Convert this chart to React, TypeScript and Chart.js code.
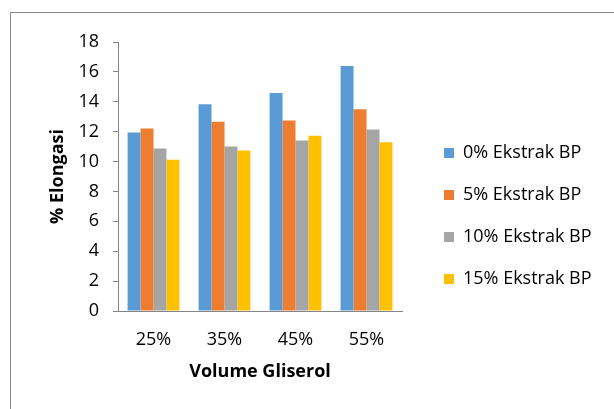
import React, { useEffect, useRef } from 'react';
import { Chart, registerables } from 'chart.js';

Chart.register(...registerables);

const categories = ['25%', '35%', '45%', '55%'];
const seriesNames = ['0% Ekstrak BP', '5% Ekstrak BP', '10% Ekstrak BP', '15% Ekstrak BP'];
const ekstrak0 = [11.95, 13.84, 14.59, 16.4];
const ekstrak5 = [12.21, 12.66, 12.74, 13.5];
const ekstrak10 = [10.87, 11.01, 11.41, 12.15];
const ekstrak15 = [10.12, 10.74, 11.72, 11.3];
const seriesColors = ['#5B9BD5', '#ED7D31', '#A5A5A5', '#FFC000'];
const yMin = 0;
const yMax = 18;
const yStep = 2;
const xTitle = 'Volume Gliserol';
const yTitle = '% Elongasi';

const FONT = "'Open Sans', 'Liberation Sans', sans-serif";
const AXIS_COLOR = '#868686';

const legendPlacement = {
  id: 'legendPlacement',
  beforeInit(chart: any) {
    const lg = chart.legend;
    if (!lg) return;
    const orig = lg.fit;
    lg.fit = function () {
      orig.call(this);
      this.width = 212;
    };
  },
  afterLayout(chart: any) {
    const lg = chart.legend;
    if (lg) {
      lg.left += 18;
      lg.right += 18;
    }
  },
};

export default function App() {
  const ref = useRef<HTMLCanvasElement>(null);

  useEffect(() => {
    const values = [ekstrak0, ekstrak5, ekstrak10, ekstrak15];
    const chart = new Chart(ref.current as HTMLCanvasElement, {
      type: 'bar',
      data: {
        labels: categories,
        datasets: seriesNames.map((name, i) => ({
          label: name,
          data: values[i],
          backgroundColor: seriesColors[i],
          borderWidth: 0,
          barPercentage: 1,
          categoryPercentage: 0.73,
        })),
      },
      options: {
        responsive: false,
        animation: false,
        devicePixelRatio: 1,
        layout: { padding: { left: 40, top: 42, bottom: 19, right: 0 } },
        plugins: {
          tooltip: { enabled: false },
          legend: {
            position: 'right',
            align: 'center',
            labels: {
              boxWidth: 10,
              boxHeight: 10,
              padding: 24,
              color: '#000',
              font: { family: FONT, size: 18 },
            },
          },
        },
        scales: {
          x: {
            grid: { display: true, drawOnChartArea: false, drawTicks: false },
            border: { display: true, color: AXIS_COLOR, width: 1 },
            ticks: { color: '#000', padding: 18, font: { family: FONT, size: 18 } },
            title: {
              display: true,
              text: xTitle,
              color: '#000',
              font: { family: FONT, size: 18, weight: 'bold' },
              padding: { top: 0, bottom: 7 },
            },
            afterFit(scale: any) {
              scale.height = 79;
            },
          },
          y: {
            min: yMin,
            max: yMax,
            ticks: { stepSize: yStep, color: '#000', padding: 14, font: { family: FONT, size: 18 } },
            grid: { drawOnChartArea: false, drawTicks: true, tickLength: 5, color: AXIS_COLOR },
            border: { display: true, color: AXIS_COLOR, width: 1 },
            title: {
              display: true,
              text: yTitle,
              color: '#000',
              font: { family: FONT, size: 18, weight: 'bold' },
              padding: { top: 7.5, bottom: 0 },
            },
            afterFit(scale: any) {
              scale.width = 78;
            },
          },
        },
      },
      plugins: [legendPlacement],
    } as any);
    return () => chart.destroy();
  }, []);

  return (
    <div style={{ position: 'fixed', left: 0, top: 0, width: 614, height: 409, background: '#fff', overflow: 'hidden' }}>
      <div
        style={{
          position: 'absolute',
          left: 10,
          top: 12,
          width: 700,
          height: 600,
          borderLeft: `1px solid ${AXIS_COLOR}`,
          borderTop: `1px solid ${AXIS_COLOR}`,
        }}
      />
      <canvas
        ref={ref}
        width={614}
        height={409}
        style={{ position: 'absolute', left: 0, top: 0, width: 614, height: 409 }}
      />
    </div>
  );
}
